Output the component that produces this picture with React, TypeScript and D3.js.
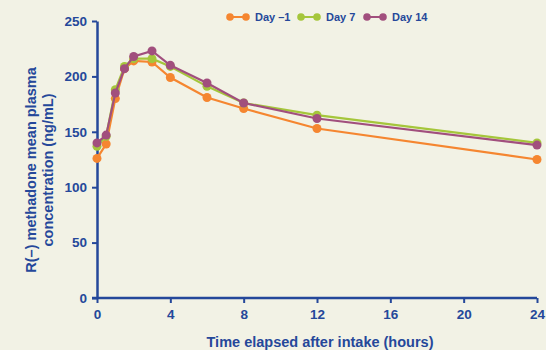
import React, { useEffect, useRef } from "react";
import * as d3 from "d3";

// hours after intake
const hours = [0, 0.5, 1, 1.5, 2, 3, 4, 6, 8, 12, 24];

// R(-) methadone mean plasma concentration (ng/mL)
const dayMinus1 = [126, 139, 180, 207, 214, 213, 199, 181, 171, 153, 125];
const day7 = [137, 146, 188, 209, 216, 216, 209, 191, 176, 165, 140];
const day14 = [140, 147, 185, 207, 218, 223, 210, 194, 176, 162, 138];

const seriesNames = ["Day \u20131", "Day 7", "Day 14"];
const xTicks = [0, 4, 8, 12, 16, 20, 24];
const yTicks = [0, 50, 100, 150, 200, 250];

const colors = ["#f58630", "#a5c63b", "#a14f7d"];
const blue = "#25489a";

const App = () => {
    const svgRef = useRef<SVGSVGElement>(null);

    useEffect(() => {
        const svg = d3.select(svgRef.current);
        const width = 546;
        const height = 350;
        const margin = { top: 21, right: 9, bottom: 52, left: 97 };

        svg.selectAll("*").remove();

        svg.append("rect")
            .attr("width", width)
            .attr("height", height)
            .attr("fill", "#f2f2e5");

        const x = d3.scaleLinear().domain([0, 24]).range([margin.left, width - margin.right]);
        const y = d3.scaleLinear().domain([0, 250]).range([height - margin.bottom, margin.top]);

        const font = "'Liberation Sans', Arial, sans-serif";

        // axes
        const xAxis = svg.append("g")
            .attr("transform", `translate(0,${y(0)})`)
            .call(d3.axisBottom(x).tickValues(xTicks).tickSize(5).tickPadding(6).tickSizeOuter(0));
        const yAxis = svg.append("g")
            .attr("transform", `translate(${x(0)},0)`)
            .call(d3.axisLeft(y).tickValues(yTicks).tickSize(5).tickPadding(5).tickSizeOuter(0));

        [xAxis, yAxis].forEach((ax) => {
            ax.select(".domain").attr("stroke", blue).attr("stroke-width", 2.5);
            ax.selectAll(".tick line").attr("stroke", blue).attr("stroke-width", 2);
            ax.selectAll(".tick text")
                .attr("fill", blue)
                .attr("font-family", font)
                .attr("font-weight", "bold")
                .attr("font-size", 13.5);
        });
        // extend axes through the origin
        xAxis.select(".domain").attr("d", `M${x(0) - 5},0H${x(24)}`);

        // lines + points
        const all = [dayMinus1, day7, day14];
        const line = d3.line<number>()
            .x((d, i) => x(hours[i]))
            .y((d) => y(d));

        all.forEach((vals, s) => {
            const g = svg.append("g");
            g.append("path")
                .datum(vals)
                .attr("d", line)
                .attr("fill", "none")
                .attr("stroke", colors[s])
                .attr("stroke-width", 2.2);
            g.selectAll("circle")
                .data(vals)
                .enter()
                .append("circle")
                .attr("cx", (d, i) => x(hours[i]))
                .attr("cy", (d) => y(d))
                .attr("r", 4.5)
                .attr("fill", colors[s]);
        });

        // legend
        const legendX = [230, 301, 367];
        const legend = svg.selectAll(".legend")
            .data(seriesNames)
            .enter()
            .append("g")
            .attr("class", "legend")
            .attr("transform", (d, i) => `translate(${legendX[i]},17)`);
        legend.append("line")
            .attr("x1", 0)
            .attr("x2", 16)
            .attr("stroke", (d, i) => colors[i])
            .attr("stroke-width", 2);
        legend.append("circle").attr("cx", 0).attr("r", 3.8).attr("fill", (d, i) => colors[i]);
        legend.append("circle").attr("cx", 16).attr("r", 3.8).attr("fill", (d, i) => colors[i]);
        legend.append("text")
            .attr("x", 25)
            .attr("y", 4)
            .attr("fill", blue)
            .attr("font-family", font)
            .attr("font-weight", "bold")
            .attr("font-size", 11)
            .text((d) => d);

        // axis titles
        svg.append("text")
            .attr("text-anchor", "middle")
            .attr("x", 320)
            .attr("y", 347)
            .attr("fill", blue)
            .attr("font-family", font)
            .attr("font-weight", "bold")
            .attr("font-size", 14.5)
            .text("Time elapsed after intake (hours)");

        const yTitle = svg.append("text")
            .attr("text-anchor", "middle")
            .attr("transform", "translate(0,170) rotate(-90)")
            .attr("fill", blue)
            .attr("font-family", font)
            .attr("font-weight", "bold")
            .attr("font-size", 14.5);
        yTitle.append("tspan").attr("x", 0).attr("y", 36).text("R(\u2013) methadone mean plasma");
        yTitle.append("tspan").attr("x", 0).attr("y", 53).text("concentration (ng/mL)");
    }, []);

    return (
        <div style={{ position: "absolute", left: 0, top: 0 }}>
            <svg ref={svgRef} width={546} height={350} style={{ display: "block" }}></svg>
        </div>
    );
};

export default App;
